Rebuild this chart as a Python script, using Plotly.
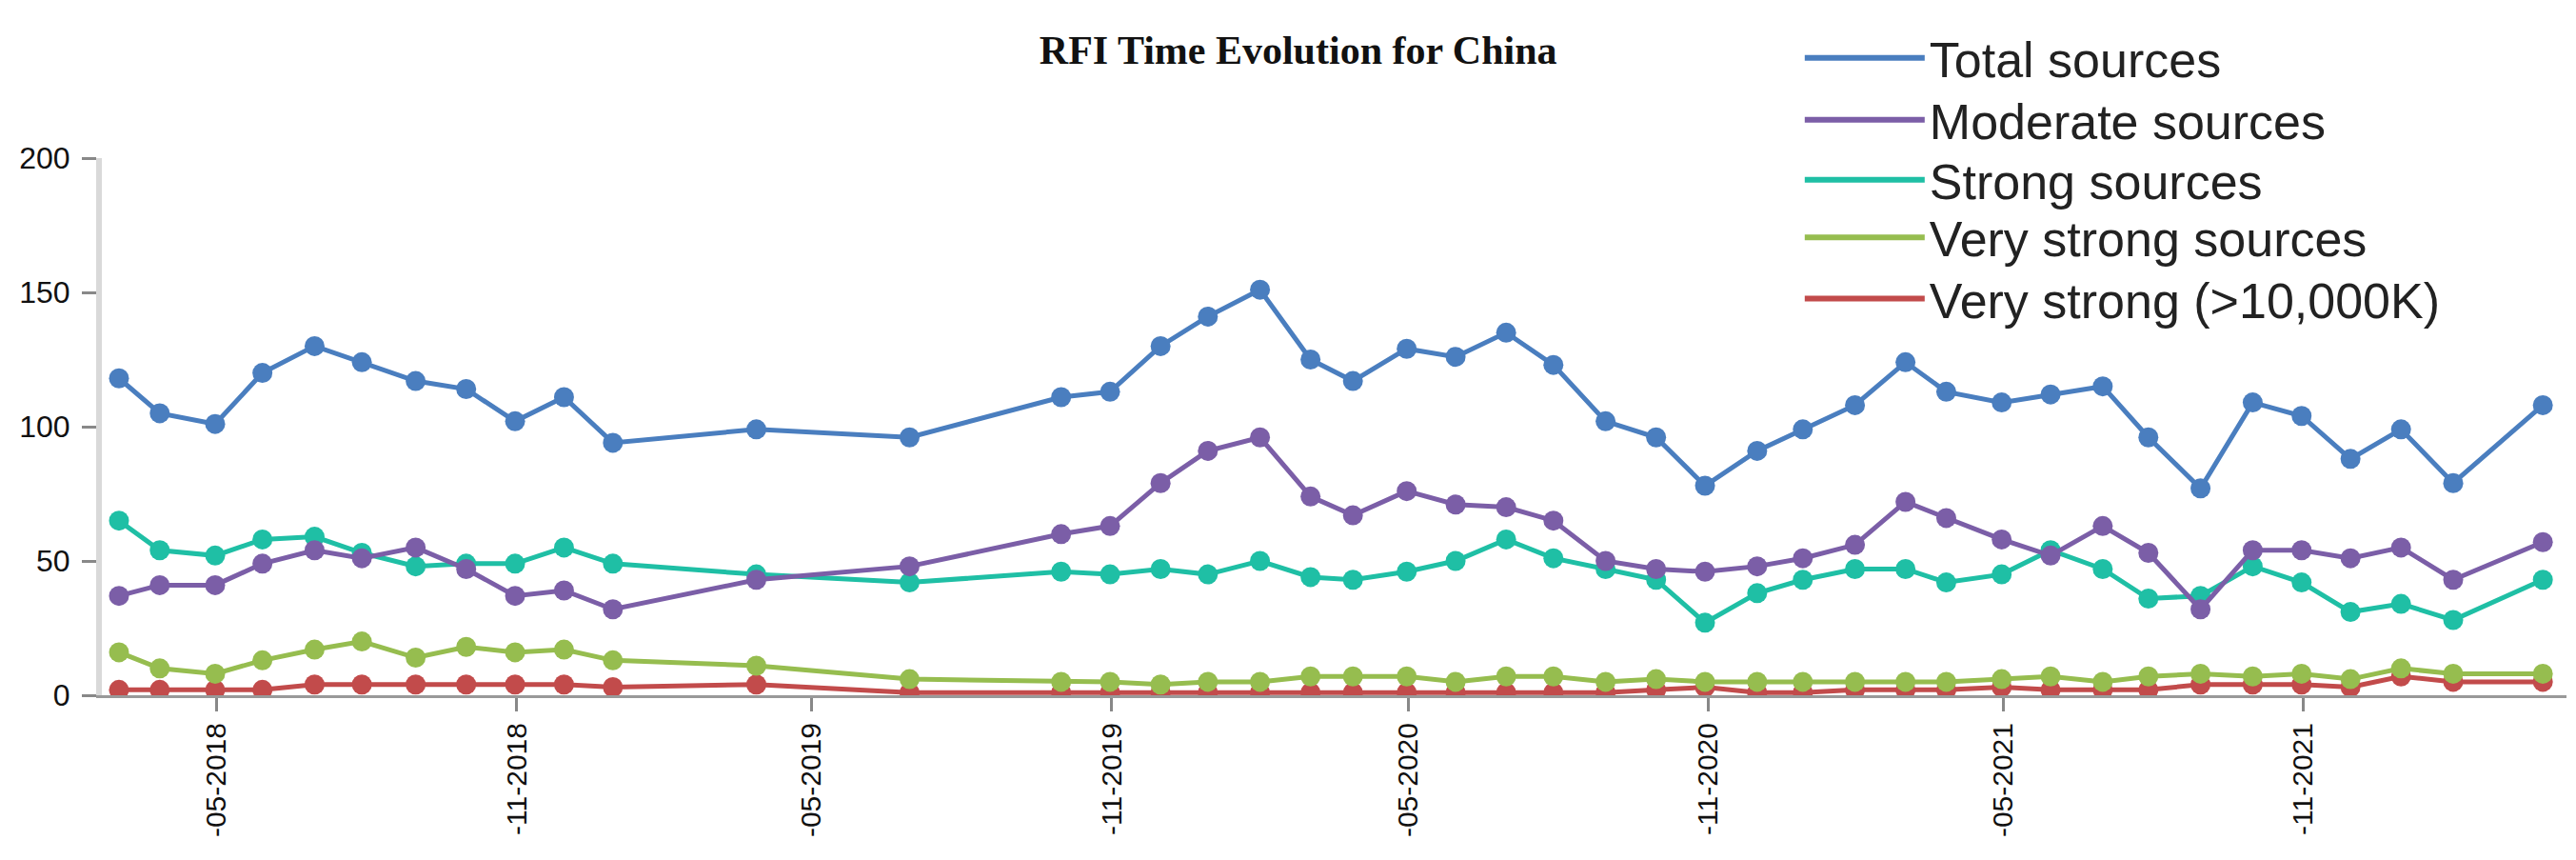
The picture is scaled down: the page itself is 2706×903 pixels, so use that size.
import plotly.graph_objects as go

dates = [
    "2018-03-02", "2018-03-27", "2018-04-30", "2018-05-29", "2018-06-30", "2018-07-29",
    "2018-08-31", "2018-10-01", "2018-10-31", "2018-11-30", "2018-12-30",
    "2019-03-28", "2019-06-30", "2019-10-01", "2019-10-31", "2019-12-01", "2019-12-30",
    "2020-01-31", "2020-03-02", "2020-03-28", "2020-04-30", "2020-05-30", "2020-06-30",
    "2020-07-29", "2020-08-30", "2020-09-30", "2020-10-30", "2020-12-01", "2020-12-29",
    "2021-01-30", "2021-03-02", "2021-03-27", "2021-04-30", "2021-05-30", "2021-07-01",
    "2021-07-29", "2021-08-30", "2021-10-01", "2021-10-31", "2021-11-30", "2021-12-31",
    "2022-02-01", "2022-03-28",
]

total_sources = [118, 105, 101, 120, 130, 124, 117, 114, 102, 111, 94,
                 99, 96, 111, 113, 130, 141,
                 151, 125, 117, 129, 126, 135, 123, 102, 96, 78, 91, 99,
                 108, 124, 113, 109, 112, 115, 96, 77, 109, 104, 88, 99,
                 79, 108]
moderate_sources = [37, 41, 41, 49, 54, 51, 55, 47, 37, 39, 32,
                    43, 48, 60, 63, 79, 91,
                    96, 74, 67, 76, 71, 70, 65, 50, 47, 46, 48, 51,
                    56, 72, 66, 58, 52, 63, 53, 32, 54, 54, 51, 55,
                    43, 57]
strong_sources = [65, 54, 52, 58, 59, 53, 48, 49, 49, 55, 49,
                  45, 42, 46, 45, 47, 45,
                  50, 44, 43, 46, 50, 58, 51, 47, 43, 27, 38, 43,
                  47, 47, 42, 45, 54, 47, 36, 37, 48, 42, 31, 34,
                  28, 43]
very_strong_sources = [16, 10, 8, 13, 17, 20, 14, 18, 16, 17, 13,
                       11, 6, 5, 5, 4, 5,
                       5, 7, 7, 7, 5, 7, 7, 5, 6, 5, 5, 5,
                       5, 5, 5, 6, 7, 5, 7, 8, 7, 8, 6, 10,
                       8, 8]
very_strong_10000k = [2, 2, 2, 2, 4, 4, 4, 4, 4, 4, 3,
                      4, 1, 1, 1, 1, 1,
                      1, 1, 1, 1, 1, 1, 1, 1, 2, 3, 1, 1,
                      2, 2, 2, 3, 2, 2, 2, 4, 4, 4, 3, 7,
                      5, 5]

series_names = ["Total sources", "Moderate sources", "Strong sources",
                "Very strong sources", "Very strong (>10,000K)"]
series_values = [total_sources, moderate_sources, strong_sources,
                 very_strong_sources, very_strong_10000k]
series_colors = ["#4A7EBF", "#7B5EA7", "#1FBFA5", "#96BD4F", "#C24B4B"]

tick_dates = ["2018-05-01", "2018-11-01", "2019-05-01", "2019-11-01",
              "2020-05-01", "2020-11-01", "2021-05-01", "2021-11-01"]
tick_labels = ["-05-2018", "-11-2018", "-05-2019", "-11-2019",
               "-05-2020", "-11-2020", "-05-2021", "-11-2021"]
y_ticks = [0, 50, 100, 150, 200]

legend_ids = ["legend", "legend2", "legend3", "legend4", "legend5"]
legend_tops = [1.258, 1.143, 1.031, 0.924, 0.810]

fig = go.Figure()

# data traces (drawn bottom-up so red sits underneath)
for name, vals, col in reversed(list(zip(series_names, series_values, series_colors))):
    fig.add_trace(go.Scatter(
        x=dates, y=vals, mode="lines+markers", name=name, showlegend=False,
        line=dict(color=col, width=5),
        marker=dict(color=col, size=21),
    ))

# legend entries (lines only), one legend box per entry for tight spacing
for name, col, lid in zip(series_names, series_colors, legend_ids):
    fig.add_trace(go.Scatter(
        x=[None], y=[None], mode="lines", name=name, legend=lid,
        line=dict(color=col, width=6),
    ))

legend_style = dict(x=0.689, xanchor="left", yanchor="top",
                    font=dict(family="Liberation Sans", size=52, color="#222"),
                    itemwidth=126, bgcolor="rgba(0,0,0,0)")

layout_legends = {lid: dict(y=ly, **legend_style) for lid, ly in zip(legend_ids, legend_tops)}

fig.update_layout(
    width=2706, height=903,
    margin=dict(l=94, r=18, t=152, b=181),
    paper_bgcolor="white", plot_bgcolor="white",
    title=dict(text="<b>RFI Time Evolution for China</b>",
               font=dict(family="Liberation Serif", size=42, color="#111"),
               x=0.501, xref="container", xanchor="center",
               y=1 - 44 / 903, yref="container", yanchor="middle"),
    font=dict(family="Liberation Sans", color="#111"),
    **layout_legends,
)

fig.update_xaxes(
    type="date", range=["2018-02-19 12:00", "2022-04-11 12:00"],
    tickmode="array", tickvals=tick_dates, ticktext=tick_labels,
    tickangle=-90, tickfont=dict(size=30, color="#111"),
    ticks="outside", ticklen=14, tickcolor="#888", tickwidth=3,
    showgrid=False, zeroline=False,
    showline=True, linecolor="#999", linewidth=3,
)
fig.update_yaxes(
    range=[0, 200], tickmode="array", tickvals=y_ticks,
    tickfont=dict(size=32, color="#111"),
    ticks="outside", ticklen=15, tickcolor="#888", tickwidth=3,
    ticklabelstandoff=6,
    showgrid=False, zeroline=False,
    showline=True, linecolor="#D9D9D9", linewidth=6,
)

fig.write_html("out.html")
